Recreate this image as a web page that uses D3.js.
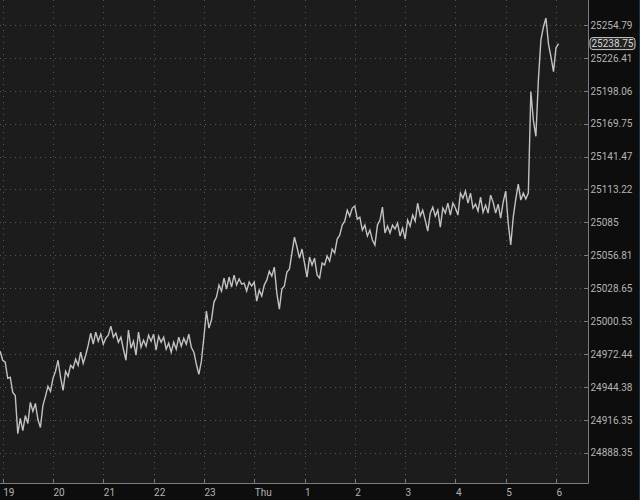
<!DOCTYPE html>
<html>
<head>
<meta charset="utf-8">
<script src="https://cdn.jsdelivr.net/npm/d3@7"></script>
<style>
  html, body { margin: 0; padding: 0; background: #0d0d0d; }
  svg { display: block; }
</style>
</head>
<body>
<svg id="chart" width="640" height="500"></svg>
<script>
// ---- data ----
const seriesStart = "2024-01-03T18:57:00";   // first sample
const stepMinutes = 3;                        // sampling step
const prices = [
  24974.8,24967.1,24965.4,24951.7,24952.6,24939.7,24937.1,24904.6,24917.5,24907.2,
  24920.0,24913.2,24931.2,24923.5,24930.3,24916.6,24909.8,24928.6,24936.3,24944.9,
  24940.6,24951.7,24957.7,24967.1,24952.6,24941.4,24957.7,24953.4,24962.8,24960.3,
  24968.0,24962.8,24974.0,24964.5,24971.4,24980.0,24990.2,24980.8,24991.1,24983.4,
  24989.4,24980.8,24985.9,24988.5,24996.2,24986.8,24990.2,24982.5,24986.8,24976.5,
  24967.1,24992.8,24977.4,24983.4,24971.4,24991.1,24978.2,24984.2,24979.1,24988.5,
  24983.4,24989.4,24975.7,24987.7,24982.5,24986.8,24976.5,24981.7,24974.0,24982.5,
  24976.5,24986.8,24979.1,24985.9,24980.8,24989.4,24978.2,24974.0,24963.7,24955.1,
  24966.3,24986.8,25009.1,24994.5,25001.4,25016.8,25021.1,25031.3,25026.2,25037.3,
  25027.9,25038.2,25029.6,25039.9,25031.3,25036.5,25032.2,25033.0,25026.2,25033.9,
  25030.5,25033.9,25017.6,25027.0,25021.9,25031.3,25035.6,25043.3,25039.0,25046.7,
  25024.5,25010.8,25027.9,25030.5,25042.5,25045.0,25058.7,25072.4,25063.9,25054.4,
  25062.2,25050.2,25038.2,25055.3,25048.5,25054.4,25039.9,25037.3,25050.2,25048.5,
  25056.2,25051.9,25062.2,25058.7,25070.7,25074.1,25082.7,25086.1,25095.5,25090.4,
  25097.3,25099.0,25087.8,25089.5,25078.4,25082.7,25073.3,25078.4,25069.9,25065.6,
  25082.7,25087.0,25098.1,25075.9,25081.8,25075.9,25082.7,25079.3,25084.4,25073.3,
  25080.1,25070.7,25087.0,25081.8,25091.3,25086.1,25101.5,25090.4,25095.5,25087.0,
  25077.6,25093.0,25098.1,25090.4,25095.5,25081.0,25097.3,25093.0,25101.5,25091.3,
  25101.5,25097.3,25091.3,25110.1,25105.8,25111.8,25101.5,25110.1,25097.3,25100.7,
  25094.7,25106.7,25093.8,25099.8,25093.0,25108.4,25102.4,25093.0,25100.7,25088.7,
  25102.4,25111.8,25084.4,25065.6,25089.5,25105.0,25117.8,25104.1,25110.1,25105.0,
  25110.1,25197.4,25172.6,25158.9,25207.7,25241.9,25253.1,25260.8,25238.5,25227.4,
  25214.6,25235.1,25238.75
];
const lastPriceLabel = "25238.75";

const yTickValues = [25254.79,25226.41,25198.06,25169.75,25141.47,25113.22,25085,
                     25056.81,25028.65,25000.53,24972.44,24944.38,24916.35,24888.35];
const yTickLabels = ["25254.79","25226.41","25198.06","25169.75","25141.47","25113.22","25085",
                     "25056.81","25028.65","25000.53","24972.44","24944.38","24916.35","24888.35"];

const xTickTimes = ["2024-01-03T19:00","2024-01-03T20:00","2024-01-03T21:00","2024-01-03T22:00",
                    "2024-01-03T23:00","2024-01-04T00:00","2024-01-04T01:00","2024-01-04T02:00",
                    "2024-01-04T03:00","2024-01-04T04:00","2024-01-04T05:00","2024-01-04T06:00"];
const xTickLabels = ["19","20","21","22","23","Thu","1","2","3","4","5","6"];
const xDomain = ["2024-01-03T18:56:47","2024-01-04T06:38:10"];

// ---- layout ----
const W = 640, H = 500;
const plotRight = 588, plotBottom = 483;

const svg = d3.select("#chart");
const parse = s => new Date(s);

const x = d3.scaleTime().domain(xDomain.map(parse)).range([0, plotRight]);
const y = d3.scaleLog().domain([24888.35, 25254.79]).range([452.7, 25]);

const t0 = parse(seriesStart);
const data = prices.map((p, i) => ({ t: new Date(t0.getTime() + i * stepMinutes * 60000), p }));

// backgrounds
svg.append("rect").attr("x", 0).attr("y", 0).attr("width", W).attr("height", H).attr("fill", "#0d0d0d");
svg.append("rect").attr("x", 0).attr("y", 0).attr("width", plotRight).attr("height", plotBottom).attr("fill", "#1c1c1c");

const font = "Roboto, 'Liberation Sans', sans-serif";
const fontSize = "10px";

// horizontal grid
svg.append("g")
  .selectAll("line").data(yTickValues).join("line")
  .attr("x1", 0).attr("x2", plotRight - 4)
  .attr("y1", d => Math.round(y(d)) + 0.5).attr("y2", d => Math.round(y(d)) + 0.5)
  .attr("stroke", "#585858").attr("stroke-width", 1).attr("stroke-dasharray", "1,4");

// vertical grid
svg.append("g")
  .selectAll("line").data(xTickTimes.map(parse)).join("line")
  .attr("x1", d => Math.round(x(d)) + 0.5).attr("x2", d => Math.round(x(d)) + 0.5)
  .attr("y1", 0).attr("y2", plotBottom - 4)
  .attr("stroke", "#585858").attr("stroke-width", 1).attr("stroke-dasharray", "1,5");

// price line
svg.append("path")
  .datum(data)
  .attr("fill", "none")
  .attr("stroke", "#c2c2c2")
  .attr("stroke-width", 1.4)
  .attr("stroke-linejoin", "miter")
  .attr("d", d3.line().x(d => x(d.t)).y(d => y(d.p)));

// right axis
const yAxis = d3.axisRight(y)
  .tickValues(yTickValues)
  .tickFormat((d, i) => yTickLabels[i])
  .tickSize(0).tickPadding(2);
const yg = svg.append("g").attr("transform", `translate(${plotRight + 0.5},0)`).call(yAxis);
yg.select(".domain").remove();
yg.selectAll("text").attr("fill", "#b4b4b4").style("font-family", font).style("font-size", fontSize);
svg.append("g").selectAll("line").data(yTickValues).join("line")
  .attr("x1", plotRight - 4).attr("x2", plotRight)
  .attr("y1", d => Math.round(y(d)) + 0.5).attr("y2", d => Math.round(y(d)) + 0.5)
  .attr("stroke", "#7a7a7a");

// bottom axis
const xAxis = d3.axisBottom(x)
  .tickValues(xTickTimes.map(parse))
  .tickFormat((d, i) => xTickLabels[i])
  .tickSize(0).tickPadding(0);
const xg = svg.append("g").attr("transform", `translate(0,${plotBottom})`).call(xAxis);
xg.select(".domain").remove();
xg.selectAll("text")
  .attr("text-anchor", "start")
  .attr("dy", null)
  .attr("y", 12.5)
  .attr("fill", "#b4b4b4")
  .style("font-family", font).style("font-size", fontSize);
svg.append("g").selectAll("line").data(xTickTimes.map(parse)).join("line")
  .attr("x1", d => Math.round(x(d)) + 0.5).attr("x2", d => Math.round(x(d)) + 0.5)
  .attr("y1", plotBottom - 4).attr("y2", plotBottom)
  .attr("stroke", "#7a7a7a");

// frame lines
svg.append("line").attr("x1", plotRight + 0.5).attr("x2", plotRight + 0.5).attr("y1", 0).attr("y2", plotBottom + 0.5)
  .attr("stroke", "#7d7d7d");
svg.append("line").attr("x1", 0).attr("x2", plotRight + 0.5).attr("y1", plotBottom + 0.5).attr("y2", plotBottom + 0.5)
  .attr("stroke", "#7d7d7d");
svg.append("line").attr("x1", W - 0.5).attr("x2", W - 0.5).attr("y1", 0).attr("y2", H)
  .attr("stroke", "#1a3346");

// last price badge
const lastP = prices[prices.length - 1];
const by = y(lastP);
svg.append("rect")
  .attr("x", plotRight + 2).attr("y", by - 6).attr("width", 45).attr("height", 12).attr("rx", 3)
  .attr("fill", "#222").attr("stroke", "#c8c8c8").attr("stroke-width", 1);
svg.append("text")
  .attr("x", plotRight + 24.5).attr("y", by + 3.6)
  .attr("text-anchor", "middle")
  .attr("fill", "#d8d8d8")
  .style("font-family", font).style("font-size", fontSize)
  .text(lastPriceLabel);
</script>
</body>
</html>
